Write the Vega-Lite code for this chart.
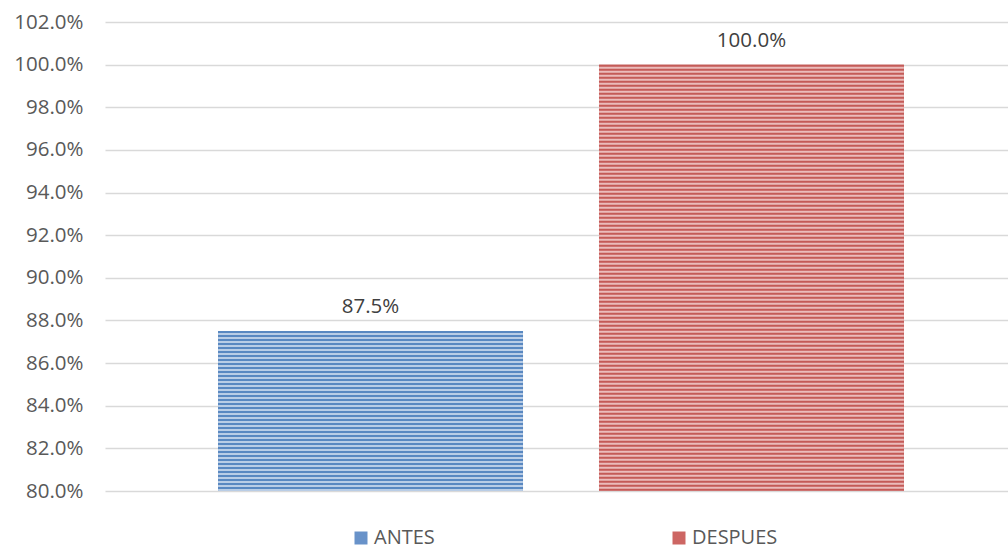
{
  "$schema": "https://vega.github.io/schema/vega-lite/v6.json",
  "width": 903,
  "height": 469,
  "autosize": "none",
  "padding": {"left": 105, "top": 22, "right": 0, "bottom": 61},
  "background": "white",
  "config": {
    "view": {"stroke": null},
    "font": "Open Sans"
  },
  "data": {
    "values": [
      {"periodo": "ANTES", "valor": 0.875},
      {"periodo": "DESPUES", "valor": 1.0}
    ]
  },
  "encoding": {
    "x": {
      "field": "periodo",
      "type": "nominal",
      "sort": ["ANTES", "DESPUES"],
      "axis": null,
      "scale": {"range": [0, 912], "paddingInner": 0.2, "paddingOuter": 0.297}
    }
  },
  "layer": [
    {
      "mark": {"type": "bar", "opacity": 1},
      "encoding": {
        "y": {
          "field": "valor",
          "type": "quantitative",
          "scale": {"domain": [0.8, 1.02], "zero": false, "nice": false},
          "axis": {
            "title": null,
            "format": ".1%",
            "values": [0.8, 0.82, 0.84, 0.86, 0.88, 0.9, 0.92, 0.94, 0.96, 0.98, 1.0, 1.02],
            "domain": false,
            "ticks": false,
            "labelFontSize": 20.5,
            "labelColor": "#595959",
            "labelPadding": 22,
            "gridColor": "#d9d9d9",
            "gridWidth": 1.3
          }
        },
        "y2": {"datum": 0.8},
        "color": {
          "field": "periodo",
          "type": "nominal",
          "sort": ["ANTES", "DESPUES"],
          "scale": {"domain": ["ANTES", "DESPUES"], "range": ["#6892c9", "#cd6663"]},
          "legend": {
            "title": null,
            "orient": "none",
            "legendX": 246,
            "legendY": 506,
            "direction": "horizontal",
            "symbolType": "square",
            "symbolSize": 169,
            "symbolOpacity": 1,
            "symbolStrokeWidth": 0,
            "labelFontSize": 20,
            "labelColor": "#595959",
            "labelOffset": 3,
            "columnPadding": 234
          }
        }
      }
    },
    {
      "transform": [{"filter": "datum.periodo === 'ANTES'"}],
      "mark": {"type": "bar", "color": "#b9cde6"},
      "encoding": {
        "y": {"field": "valor", "type": "quantitative"},
        "y2": {"datum": 0.8}
      }
    },
    {
      "transform": [{"filter": "datum.periodo === 'DESPUES'"}],
      "mark": {"type": "bar", "color": "#ebbcbb"},
      "encoding": {
        "y": {"field": "valor", "type": "quantitative"},
        "y2": {"datum": 0.8}
      }
    },
    {
      "transform": [{"filter": "datum.periodo === 'ANTES'"}],
      "mark": {"type": "rule", "color": "#4f81bd", "strokeWidth": 305, "strokeDash": [2, 2], "strokeCap": "butt", "opacity": 0.9},
      "encoding": {
        "y": {"field": "valor", "type": "quantitative"},
        "y2": {"datum": 0.8}
      }
    },
    {
      "transform": [{"filter": "datum.periodo === 'DESPUES'"}],
      "mark": {"type": "rule", "color": "#c0504d", "strokeWidth": 305, "strokeDash": [2, 2], "strokeCap": "butt", "opacity": 0.9},
      "encoding": {
        "y": {"field": "valor", "type": "quantitative"},
        "y2": {"datum": 0.8}
      }
    },
    {
      "mark": {"type": "text", "baseline": "alphabetic", "dy": -18, "fontSize": 20.5, "color": "#404040"},
      "encoding": {
        "y": {"field": "valor", "type": "quantitative"},
        "text": {"field": "valor", "type": "quantitative", "format": ".1%"}
      }
    }
  ]
}
